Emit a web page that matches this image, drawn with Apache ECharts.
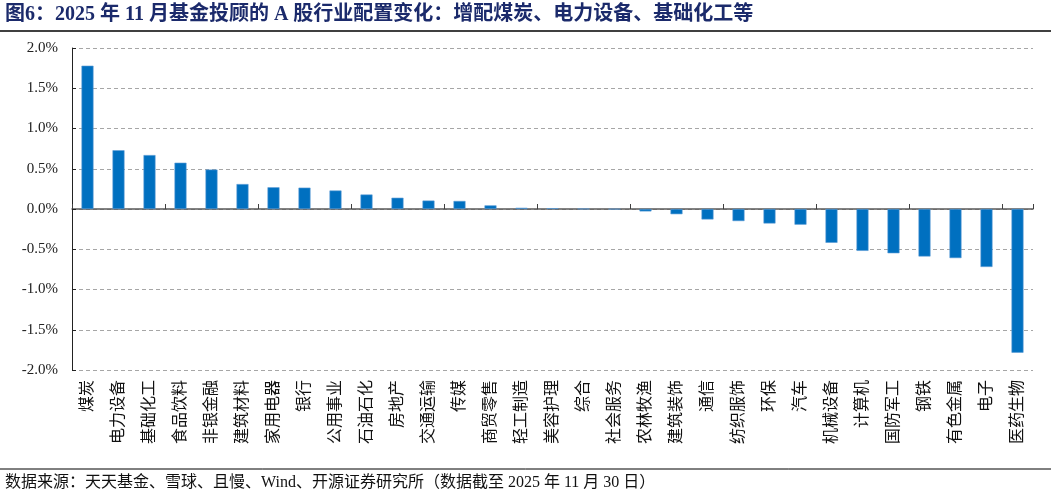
<!DOCTYPE html>
<html>
<head>
<meta charset="utf-8">
<script src="https://cdn.jsdelivr.net/npm/echarts@6/dist/echarts.min.js"></script>
<style>
html,body{margin:0;padding:0;background:#fff;}
#c{width:1057px;height:499px;}
</style>
</head>
<body>
<div id="c"></div>
<script>
const categories = ['煤炭','电力设备','基础化工','食品饮料','非银金融','建筑材料','家用电器','银行','公用事业','石油石化','房地产','交通运输','传媒','商贸零售','轻工制造','美容护理','综合','社会服务','农林牧渔','建筑装饰','通信','纺织服饰','环保','汽车','机械设备','计算机','国防军工','钢铁','有色金属','电子','医药生物'];
const changes = [1.78,0.73,0.67,0.575,0.49,0.31,0.27,0.265,0.23,0.18,0.14,0.105,0.10,0.045,0.015,0.01,0.002,-0.003,-0.03,-0.065,-0.13,-0.15,-0.18,-0.195,-0.42,-0.52,-0.55,-0.59,-0.61,-0.72,-1.785];
const yTicks = {min:-2, max:2, interval:0.5};
const titleText = '图6：2025 年 11 月基金投顾的 A 股行业配置变化：增配煤炭、电力设备、基础化工等';
const sourceText = '数据来源：天天基金、雪球、且慢、Wind、开源证券研究所（数据截至 2025 年 11 月 30 日）';

const serif = "'Liberation Serif','DejaVu Serif','Noto Sans CJK SC',serif";
const chart = echarts.init(document.getElementById('c'), null, {renderer:'canvas'});
chart.setOption({
  animation:false,
  backgroundColor:'#fff',
  grid:{left:72, right:24, top:48, bottom:129, containLabel:false},
  graphic:[
    {type:'text', left:5, top:5, style:{text:titleText, font:"bold 20px " + serif, fill:'#1B2A6B'}},
    {type:'line', shape:{x1:0,y1:31,x2:1051,y2:31}, style:{stroke:'#000', lineWidth:1.5}},
    {type:'line', shape:{x1:0,y1:469,x2:1051,y2:469}, style:{stroke:'#000', lineWidth:1}},
    {type:'text', left:5, top:475, style:{text:sourceText, font:"16px " + serif, fill:'#111'}}
  ],
  xAxis:[
    {type:'category', data:categories, position:'bottom',
     axisLine:{onZero:true, lineStyle:{color:'#595959', width:1.5}},
     axisTick:{show:true, inside:true, length:5, alignWithLabel:false, lineStyle:{color:'#404040'}},
     axisLabel:{show:false}, splitLine:{show:false}},
    {type:'category', data:categories, position:'bottom',
     axisLine:{show:false, onZero:false}, axisTick:{show:false},
     axisLabel:{show:true, rotate:90, interval:0, margin:10, fontSize:16,
       fontFamily:serif, color:'#111'}}
  ],
  yAxis:{type:'value', min:yTicks.min, max:yTicks.max, interval:yTicks.interval,
    axisLine:{show:true, lineStyle:{color:'#222', width:1}},
    axisTick:{show:true, inside:true, length:4, lineStyle:{color:'#222'}},
    axisLabel:{formatter:v=>v.toFixed(1)+'%', fontSize:15, fontFamily:serif, color:'#222', margin:14},
    splitLine:{show:true, lineStyle:{color:'#A6A6A6', type:[4,3], width:1}}},
  series:[{type:'bar', xAxisIndex:0, data:changes, barWidth:12,
    itemStyle:{color:'#0070C0', borderColor:'#5B9BD5', borderWidth:0.6}}]
});
</script>
</body>
</html>
